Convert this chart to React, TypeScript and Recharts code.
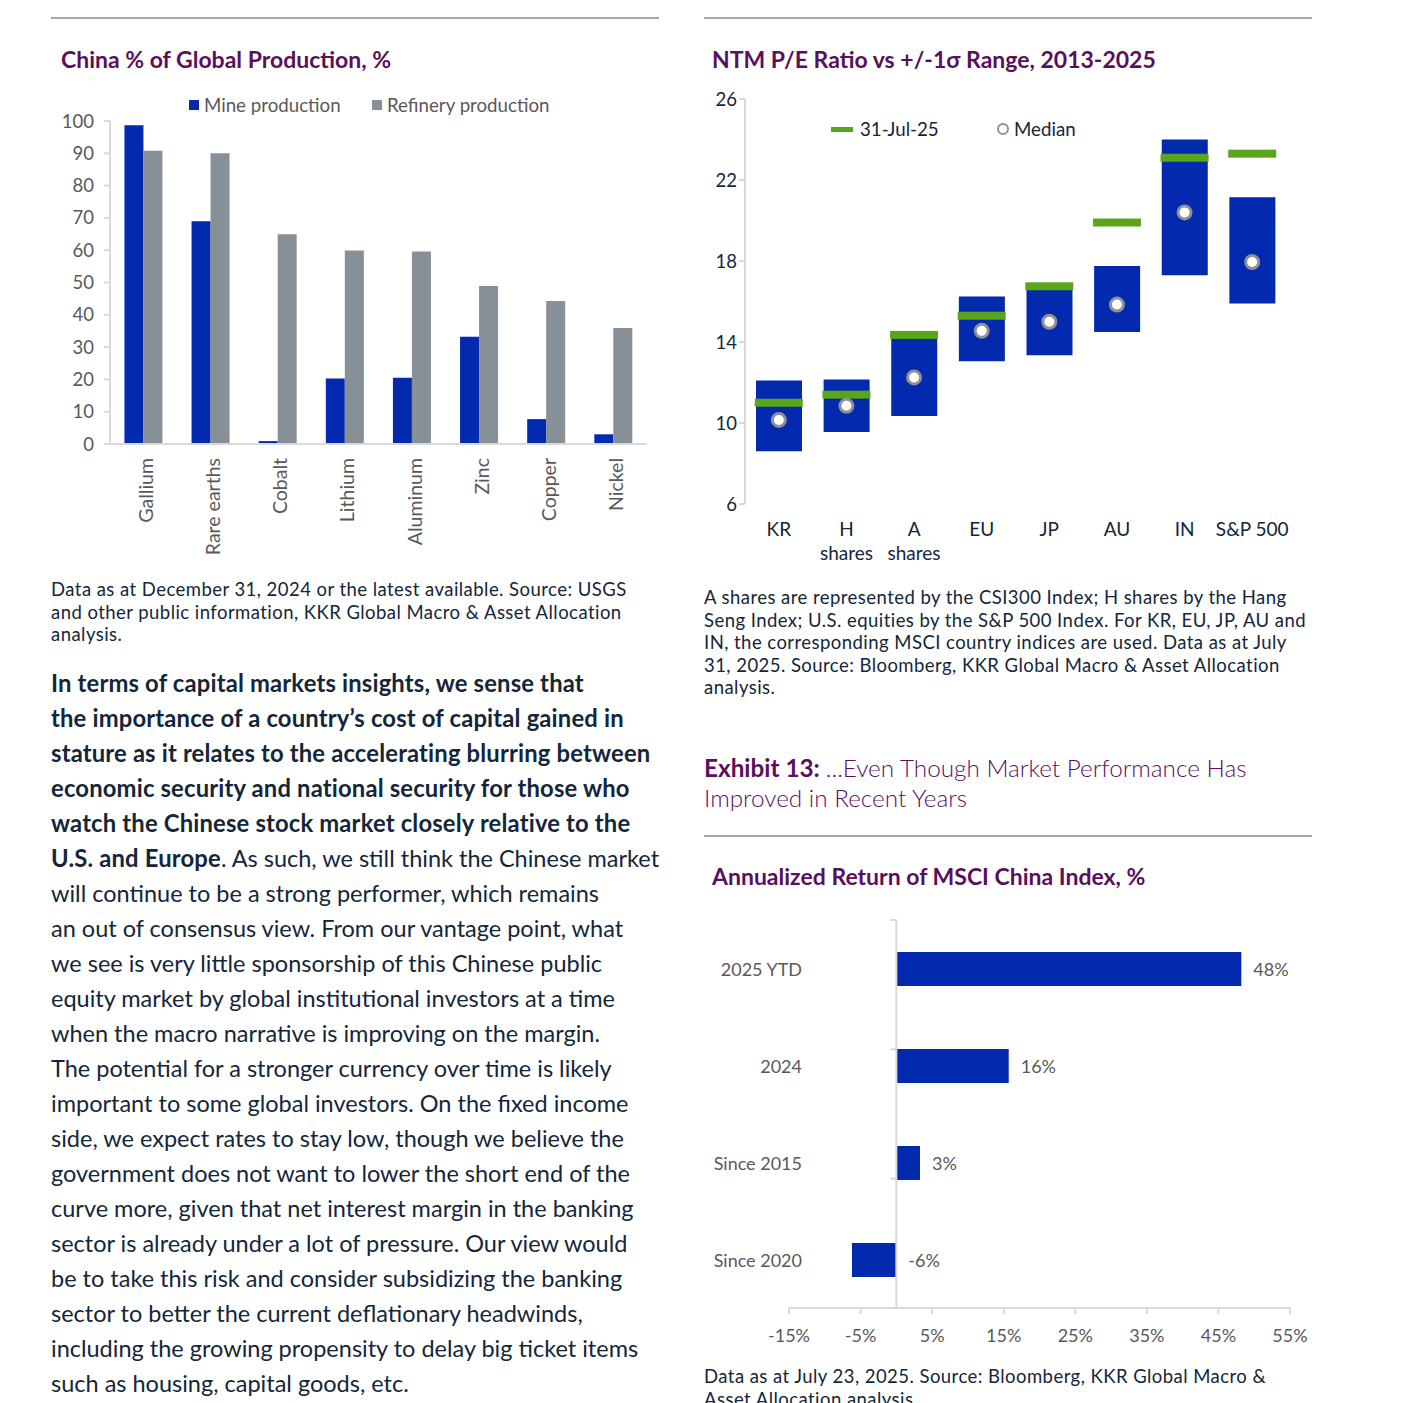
import React from 'react';
import { BarChart, Bar, XAxis, YAxis, ComposedChart, Line, ReferenceLine, LabelList } from 'recharts';

// China % of global production
const metals = ['Gallium', 'Rare earths', 'Cobalt', 'Lithium', 'Aluminum', 'Zinc', 'Copper', 'Nickel'];
const mineProduction = [98.7, 69.0, 0.9, 20.3, 20.5, 33.2, 7.7, 3.0];
const refineryProduction = [90.8, 90.0, 64.9, 59.9, 59.6, 48.9, 44.3, 35.9];
const productionTicks = [0, 10, 20, 30, 40, 50, 60, 70, 80, 90, 100];

// NTM P/E vs +/-1 sigma range
const markets = ['KR', 'H\nshares', 'A\nshares', 'EU', 'JP', 'AU', 'IN', 'S&P 500'];
const peLow = [8.6, 9.55, 10.35, 13.05, 13.35, 14.5, 17.3, 15.9];
const peHigh = [12.1, 12.15, 14.3, 16.25, 16.6, 17.75, 24.0, 21.15];
const peCurrent = [11.0, 11.4, 14.35, 15.3, 16.75, 19.9, 23.1, 23.3];
const peMedian = [10.15, 10.85, 12.25, 14.55, 15.0, 15.85, 20.4, 17.95];
const peTicks = [6, 10, 14, 18, 22, 26];
const peEdges = [0, 1, 2, 3, 4, 5, 6, 7, 8];

// Annualized return of MSCI China
const periods = ['2025 YTD', '2024', 'Since 2015', 'Since 2020'];
const annualReturn = [48.2, 15.7, 3.3, -6.2];
const returnTicks = [-15, -5, 5, 15, 25, 35, 45, 55];
const periodEdges = [0, 1, 2, 3, 4];

const bodyLines: { bold?: string; text?: string }[] = [
  { bold: 'In terms of capital markets insights, we sense that' },
  { bold: 'the importance of a country\u2019s cost of capital gained in' },
  { bold: 'stature as it relates to the accelerating blurring between' },
  { bold: 'economic security and national security for those who' },
  { bold: 'watch the Chinese stock market closely relative to the' },
  { bold: 'U.S. and Europe', text: '. As such, we still think the Chinese market' },
  { text: 'will continue to be a strong performer, which remains' },
  { text: 'an out of consensus view. From our vantage point, what' },
  { text: 'we see is very little sponsorship of this Chinese public' },
  { text: 'equity market by global institutional investors at a time' },
  { text: 'when the macro narrative is improving on the margin.' },
  { text: 'The potential for a stronger currency over time is likely' },
  { text: 'important to some global investors. On the fixed income' },
  { text: 'side, we expect rates to stay low, though we believe the' },
  { text: 'government does not want to lower the short end of the' },
  { text: 'curve more, given that net interest margin in the banking' },
  { text: 'sector is already under a lot of pressure. Our view would' },
  { text: 'be to take this risk and consider subsidizing the banking' },
  { text: 'sector to better the current deflationary headwinds,' },
  { text: 'including the growing propensity to delay big ticket items' },
  { text: 'such as housing, capital goods, etc.' },
];

const note1 = [
  'Data as at December 31, 2024 or the latest available. Source: USGS',
  'and other public information, KKR Global Macro & Asset Allocation',
  'analysis.',
];
const note2 = [
  'A shares are represented by the CSI300 Index; H shares by the Hang',
  'Seng Index; U.S. equities by the S&P 500 Index. For KR, EU, JP, AU and',
  'IN, the corresponding MSCI country indices are used. Data as at July',
  '31, 2025. Source: Bloomberg, KKR Global Macro & Asset Allocation',
  'analysis.',
];
const note3 = ['Data as at July 23, 2025. Source: Bloomberg, KKR Global Macro &', 'Asset Allocation analysis.'];

const BLUE = '#0329ae';
const GRAY = '#879097';
const GREEN = '#5aa51a';
const PURPLE = '#5a0f5c';
const INK = '#13263a';
const AXIS = '#d9d9d9';
const FONT = 'Lato, "Noto Sans", sans-serif';

const productionData = metals.map((m, i) => ({ metal: m, mine: mineProduction[i], refinery: refineryProduction[i] }));
const peData = markets.map((m, i) => ({
  name: m,
  range: [peLow[i], peHigh[i]],
  current: peCurrent[i],
  median: peMedian[i],
}));
const returnData = periods.map((p, i) => ({ period: p, value: annualReturn[i] }));

function Txt({ x, y, size, lh, color, weight, spacing, children }: any) {
  return (
    <div
      style={{
        position: 'absolute',
        left: x,
        top: y - lh / 2,
        fontSize: size,
        lineHeight: `${lh}px`,
        color,
        fontWeight: weight || 400,
        letterSpacing: spacing || 0,
        whiteSpace: 'nowrap',
      }}
    >
      {children}
    </div>
  );
}

function Rule({ x, y, w }: any) {
  return <div style={{ position: 'absolute', left: x, top: y - 1, width: w, height: 2, background: '#a3a7ab' }} />;
}

const RotatedTick = (props: any) => {
  const { x, y, payload } = props;
  return (
    <text
      x={x + 2}
      y={y}
      transform={`rotate(-90, ${x + 2}, ${y})`}
      textAnchor="end"
      dominantBaseline="central"
      fill="#595959"
      fontSize={19.5}
      fontFamily={FONT}
    >
      {payload.value}
    </text>
  );
};

const MarketTick = (props: any) => {
  const { x, y, payload } = props;
  const lines = String(payload.value).split('\n');
  return (
    <text x={x} y={y} textAnchor="middle" fill={INK} fontSize={19} fontFamily={FONT}>
      {lines.map((l, i) => (
        <tspan key={i} x={x} dy={i === 0 ? 32 : 24}>
          {l}
        </tspan>
      ))}
    </text>
  );
};

const CurrentMark = (props: any) => {
  const { cx, cy } = props;
  if (cx == null || cy == null) return null;
  return <rect x={cx - 24} y={cy - 4} width={48} height={8} fill={GREEN} />;
};

const MedianMark = (props: any) => {
  const { cx, cy } = props;
  if (cx == null || cy == null) return null;
  return <circle cx={cx} cy={cy} r={6.5} fill="#ffffff" stroke="#8d9297" strokeWidth={3} />;
};

const PeriodTick = (props: any) => {
  const { x, y, payload } = props;
  return (
    <text x={x + 13} y={y} textAnchor="end" dominantBaseline="central" fill="#595959" fontSize={18} fontFamily={FONT}>
      {payload.value}
    </text>
  );
};

const ReturnLabel = (props: any) => {
  const { x, y, width, height, value } = props;
  const right = Math.max(Number(x), Number(x) + Number(width));
  return (
    <text
      x={right + 12}
      y={Number(y) + Number(height) / 2}
      dominantBaseline="central"
      fill="#595959"
      fontSize={18}
      fontFamily={FONT}
    >
      {`${Math.round(Number(value))}%`}
    </text>
  );
};

function ProductionChart() {
  return (
    <BarChart
      width={610}
      height={470}
      data={productionData}
      margin={{ top: 21, right: 13, left: 10, bottom: 21 }}
      barGap={0}
      barCategoryGap="21.5%"
    >
      <YAxis
        domain={[0, 100]}
        ticks={productionTicks}
        interval={0}
        width={50}
        tickSize={6}
        tickMargin={10}
        axisLine={{ stroke: AXIS, strokeWidth: 2 }}
        tickLine={{ stroke: AXIS, strokeWidth: 2 }}
        tick={{ fill: '#595959', fontSize: 18.5, fontFamily: FONT }}
      />
      <XAxis
        dataKey="metal"
        height={105}
        interval={0}
        tickSize={6}
        tickMargin={8}
        axisLine={{ stroke: AXIS, strokeWidth: 2 }}
        tickLine={false}
        tick={<RotatedTick />}
      />
      <Bar dataKey="mine" fill={BLUE} isAnimationActive={false} />
      <Bar dataKey="refinery" fill={GRAY} isAnimationActive={false} />
    </BarChart>
  );
}

function PeChart() {
  return (
    <ComposedChart width={610} height={500} data={peData} margin={{ top: 19, right: 24, left: 5, bottom: 16 }}>
      <XAxis
        xAxisId="edge"
        type="number"
        domain={[0, 8]}
        ticks={peEdges}
        interval={0}
        height={0}
        tick={false}
        tickSize={6}
        axisLine={{ stroke: AXIS, strokeWidth: 2 }}
        tickLine={{ stroke: AXIS, strokeWidth: 2 }}
      />
      <XAxis
        xAxisId="cat"
        dataKey="name"
        height={60}
        interval={0}
        tickSize={0}
        tickMargin={0}
        axisLine={false}
        tickLine={false}
        tick={<MarketTick />}
      />
      <YAxis
        domain={[6, 26]}
        ticks={peTicks}
        interval={0}
        width={40}
        tickSize={6}
        axisLine={{ stroke: AXIS, strokeWidth: 2 }}
        tickLine={{ stroke: AXIS, strokeWidth: 2 }}
        tick={{ fill: INK, fontSize: 18.5, fontFamily: FONT }}
      />
      <Bar xAxisId="cat" dataKey="range" fill={BLUE} barSize={46} isAnimationActive={false} />
      <Line
        xAxisId="cat"
        dataKey="current"
        stroke="none"
        dot={<CurrentMark />}
        activeDot={false}
        isAnimationActive={false}
      />
      <Line
        xAxisId="cat"
        dataKey="median"
        stroke="none"
        dot={<MedianMark />}
        activeDot={false}
        isAnimationActive={false}
      />
    </ComposedChart>
  );
}

function ReturnChart() {
  return (
    <BarChart layout="vertical" width={610} height={460} data={returnData} margin={{ top: 20, right: 20, left: 9, bottom: 12 }}>
      <XAxis
        type="number"
        domain={[-15, 55]}
        ticks={returnTicks}
        interval={0}
        height={40}
        tickSize={6}
        tickMargin={15}
        axisLine={{ stroke: AXIS, strokeWidth: 2 }}
        tickLine={{ stroke: AXIS, strokeWidth: 2 }}
        tickFormatter={(v: number) => `${v}%`}
        tick={{ fill: '#595959', fontSize: 18, fontFamily: FONT }}
      />
      <YAxis
        type="category"
        dataKey="period"
        width={80}
        tickSize={0}
        tickMargin={0}
        axisLine={false}
        tickLine={false}
        tick={<PeriodTick />}
      />
      <YAxis yAxisId="edge" type="number" domain={[0, 4]} hide />
      <ReferenceLine x={0} stroke={AXIS} strokeWidth={2} />
      {periodEdges.map((k) => (
        <ReferenceLine
          key={k}
          yAxisId="edge"
          segment={[
            { x: -0.85, y: k },
            { x: 0, y: k },
          ]}
          stroke={AXIS}
          strokeWidth={2}
        />
      ))}
      <Bar dataKey="value" fill={BLUE} barSize={34} isAnimationActive={false}>
        <LabelList dataKey="value" content={<ReturnLabel />} />
      </Bar>
    </BarChart>
  );
}

export default function App() {
  return (
    <div
      style={{
        position: 'absolute',
        left: 0,
        top: 0,
        width: 1401,
        height: 1403,
        overflow: 'hidden',
        background: '#ffffff',
        fontFamily: FONT,
        color: INK,
      }}
    >
      <Rule x={51} y={18} w={608} />
      <Rule x={704} y={18} w={608} />
      <Rule x={704} y={836} w={608} />

      <Txt x={61} y={59} size={23} lh={30} color={PURPLE} weight={700}>
        China % of Global Production, %
      </Txt>
      <Txt x={712} y={59} size={23} lh={30} color={PURPLE} weight={700}>
        NTM P/E Ratio vs +/-1σ Range, 2013-2025
      </Txt>
      <Txt x={712} y={876} size={23} lh={30} color={PURPLE} weight={700}>
        Annualized Return of MSCI China Index, %
      </Txt>

      {/* chart 1 legend */}
      <div style={{ position: 'absolute', left: 189, top: 100, width: 10, height: 10, background: BLUE }} />
      <Txt x={204} y={105} size={18.7} lh={24} color="#595959">
        Mine production
      </Txt>
      <div style={{ position: 'absolute', left: 372, top: 100, width: 10, height: 10, background: GRAY }} />
      <Txt x={387} y={105} size={18.7} lh={24} color="#595959">
        Refinery production
      </Txt>

      {/* chart 2 legend */}
      <div style={{ position: 'absolute', left: 831, top: 127, width: 22, height: 5, background: GREEN }} />
      <Txt x={860} y={129} size={18.7} lh={24} color={INK}>
        31-Jul-25
      </Txt>
      <div
        style={{
          position: 'absolute',
          left: 997,
          top: 123,
          width: 8,
          height: 8,
          borderRadius: '50%',
          border: '2px solid #8d9297',
          background: '#fff',
        }}
      />
      <Txt x={1014} y={129} size={18.7} lh={24} color={INK}>
        Median
      </Txt>

      <div style={{ position: 'absolute', left: 50, top: 100 }}>
        <ProductionChart />
      </div>
      <div style={{ position: 'absolute', left: 700, top: 80 }}>
        <PeChart />
      </div>
      <div style={{ position: 'absolute', left: 700, top: 900 }}>
        <ReturnChart />
      </div>

      {note1.map((l, i) => (
        <Txt key={i} x={51} y={589 + i * 22.5} size={18.5} lh={22} color={INK} spacing={0.45}>
          {l}
        </Txt>
      ))}
      {note2.map((l, i) => (
        <Txt key={i} x={704} y={597 + i * 22.5} size={18.5} lh={22} color={INK} spacing={0.45}>
          {l}
        </Txt>
      ))}
      {note3.map((l, i) => (
        <Txt key={i} x={704} y={1376 + i * 22.5} size={18.5} lh={22} color={INK} spacing={0.45}>
          {l}
        </Txt>
      ))}

      <Txt x={704} y={768} size={24.3} lh={30} color={PURPLE}>
        <span style={{ fontWeight: 700 }}>Exhibit 13: </span>
        <span style={{ fontWeight: 300 }}>...Even Though Market Performance Has</span>
      </Txt>
      <Txt x={704} y={798} size={24.3} lh={30} color={PURPLE} weight={300}>
        Improved in Recent Years
      </Txt>

      {bodyLines.map((l, i) => (
        <Txt key={i} x={51} y={683 + i * 35} size={23.5} lh={35} color={INK}>
          {l.bold && <span style={{ fontWeight: 700, fontSize: 23.8, letterSpacing: 0.17 }}>{l.bold}</span>}
          {l.text}
        </Txt>
      ))}
    </div>
  );
}
